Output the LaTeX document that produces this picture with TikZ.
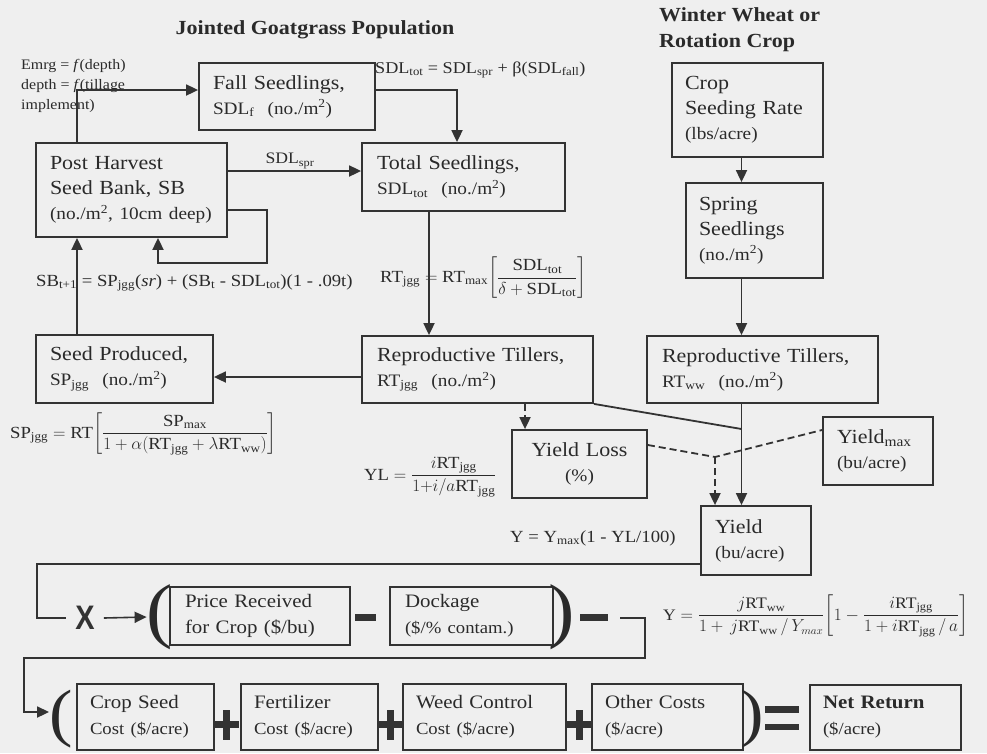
\documentclass[tikz,border=0pt]{standalone}
\usepackage{amsmath}
\usepackage{fontspec}
\setmainfont{Liberation Serif}[FakeStretch=1.1]
\newfontfamily\sansbold{Liberation Sans}[FakeStretch=0.85]
\usetikzlibrary{arrows.meta}
\definecolor{bg}{HTML}{EFEFEF}
\definecolor{lc}{HTML}{333333}
\definecolor{tc}{HTML}{2A2A2A}
\newcommand\fa{\fontsize{20}{25}\selectfont}
\newcommand\fb{\fontsize{17.5}{22}\selectfont}
\newcommand\fq{\fontsize{17}{20}\selectfont}
\newcommand\fc{\fontsize{19}{26}\selectfont}
\newcommand\fd{\fontsize{17}{22}\selectfont}
\tikzset{
 bx/.style={draw=lc, line width=1.8pt, align=left, font=\fa, text=tc, inner ysep=3pt, inner xsep=14pt},
 arr/.style={draw=lc, line width=1.8pt, -{Triangle[length=12pt,width=11pt]}},
 ln/.style={draw=lc, line width=1.8pt},
 dsh/.style={dash pattern=on 7pt off 4pt},
 lbl/.style={text=tc, inner sep=0pt},
 bar/.style={fill=lc, draw=none},
}
\begin{document}
\begin{tikzpicture}[x=1pt,y=-1pt]
\fill[bg] (0,0) rectangle (987,753);
\useasboundingbox (0,0) rectangle (987,753);

% titles
\node[lbl, font=\fontsize{20}{24}\selectfont\bfseries] (title) at (315,30) {Jointed Goatgrass Population};
\node[lbl, font=\fontsize{20}{26}\selectfont\bfseries, align=left, anchor=north west] (ww) at (659,7) {Winter Wheat or\\Rotation Crop};

% boxes
\node[bx, text width=148pt, minimum height=67pt] (fall) at (287,96.5) {Fall~Seedlings,\\{\fb SDL\textsubscript{f}~~(no./m\textsuperscript{2})}};
\node[bx, text width=163pt, minimum height=94pt] (ph) at (131.5,190) {Post~Harvest\\Seed~Bank,~SB\\{\fb (no./m\textsuperscript{2},~10cm~deep)}};
\node[bx, text width=173pt, inner xsep=15pt, minimum height=68pt] (tot) at (463.5,177) {Total~Seedlings,\\{\fb SDL\textsubscript{tot}~~(no./m\textsuperscript{2})}};
\node[bx, text width=149pt, minimum height=68pt] (sp) at (124.5,369) {Seed~Produced,\\{\fb SP\textsubscript{jgg}~~(no./m\textsuperscript{2})}};
\node[bx, text width=201pt, inner xsep=15pt, minimum height=67pt] (rtj) at (477.5,369.5) {Reproductive~Tillers,\\{\fb RT\textsubscript{jgg}~~(no./m\textsuperscript{2})}};
\node[bx, text width=201pt, inner xsep=15pt, minimum height=67pt] (rtw) at (762.5,369.5) {Reproductive~Tillers,\\{\fb RT\textsubscript{ww}~~(no./m\textsuperscript{2})}};
\node[bx, text width=125pt, inner xsep=13pt, minimum height=94pt] (crop) at (747.5,110) {Crop\\Seeding~Rate\\{\fb (lbs/acre)}};
\node[bx, text width=111pt, inner xsep=13pt, minimum height=95pt] (spring) at (754.5,230.5) {Spring\\Seedlings\\{\fb (no./m\textsuperscript{2})}};
\node[bx, align=center, text width=107pt, minimum height=68pt] (yl) at (579.5,464) {Yield~Loss\\{\fb (\%)}};
\node[bx, text width=82pt, minimum height=68pt] (ymax) at (878,451) {Yield\textsubscript{max}\\{\fb (bu/acre)}};
\node[bx, text width=82pt, minimum height=69pt] (yield) at (756,540.5) {Yield\\{\fb (bu/acre)}};
\node[bx, font=\fc, text width=150pt, inner xsep=15pt, minimum height=58pt] (price) at (260,616) {Price~Received\\for~Crop~(\$/bu)};
\node[bx, font=\fc, text width=133pt, inner xsep=15pt, minimum height=58pt] (dock) at (471.5,616) {Dockage\\{\fd (\$/\%~contam.)}};
\node[bx, font=\fc, text width=111pt, inner xsep=13pt, minimum height=66pt] (cseed) at (145.5,717) {Crop~Seed\\{\fd Cost~(\$/acre)}};
\node[bx, font=\fc, text width=111pt, inner xsep=13pt, minimum height=66pt] (fert) at (309.5,717) {Fertilizer\\{\fd Cost~(\$/acre)}};
\node[bx, font=\fc, text width=137pt, inner xsep=13pt, minimum height=66pt] (weed) at (484.5,717) {Weed~Control\\{\fd Cost~(\$/acre)}};
\node[bx, font=\fc, text width=125pt, inner xsep=13pt, minimum height=66pt] (other) at (667.5,717) {Other~Costs\\{\fd (\$/acre)}};
\node[bx, font=\fc, text width=125pt, inner xsep=13pt, minimum height=65pt] (net) at (885.5,717.5) {\textbf{Net~Return}\\{\fd (\$/acre)}};

% equations and labels
\node[lbl, font=\fontsize{14.5}{20}\selectfont, align=left, anchor=north west] (emrg) at (21,59) {Emrg = \textit{f}(depth)\\depth = \textit{f}(tillage\\implement)};
\node[lbl, font=\fontsize{16.5}{20}\selectfont, anchor=west] (eqtot) at (375,70) {SDL\textsubscript{tot} = SDL\textsubscript{spr} + β(SDL\textsubscript{fall})};
\node[lbl, font=\fontsize{16}{18}\selectfont] (spr) at (290,161) {SDL\textsubscript{spr}};
\node[lbl, font=\fq, anchor=west] (eqsb) at (36,283) {SB\textsubscript{t+1} = SP\textsubscript{jgg}(\textit{sr}) + (SB\textsubscript{t} - SDL\textsubscript{tot})(1 - .09t)};
\node[lbl, font=\fq, anchor=west] (eqrt) at (380,278) {$\text{RT}_{\text{jgg}} = \text{RT}_{\text{max}}\!\left[\dfrac{\text{SDL}_{\text{tot}}}{\delta+\text{SDL}_{\text{tot}}}\right]$};
\node[lbl, font=\fq, anchor=west] (eqsp) at (10,434) {$\text{SP}_{\text{jgg}} = \text{RT}\!\left[\dfrac{\text{SP}_{\text{max}}}{1+\alpha(\text{RT}_{\text{jgg}}+\lambda\text{RT}_{\text{ww}})}\right]$};
\node[lbl, font=\fq, anchor=west] (eqyl) at (364,477) {$\text{YL} = \dfrac{i\text{RT}_{\text{jgg}}}{1{+}i/a\text{RT}_{\text{jgg}}}$};
\node[lbl, font=\fq, anchor=west] (eqy1) at (510,538) {Y = Y\textsubscript{max}(1 - YL/100)};
\node[lbl, font=\fontsize{16}{19}\selectfont, anchor=west] (eqy2) at (663,616) {$\text{Y} = \dfrac{j\text{RT}_{\text{ww}}}{1+\,j\text{RT}_{\text{ww}}\,/\,Y_{max}}\!\left[1-\dfrac{i\text{RT}_{\text{jgg}}}{1+i\text{RT}_{\text{jgg}}\,/\,a}\right]$};

% operators of the return equation
\node[lbl, text=lc, font=\sansbold\bfseries\fontsize{34}{34}\selectfont, inner xsep=9pt] (xm) at (85,618) {X};
\node[lbl, font=\fontsize{72}{72}\selectfont] (lp1) at (160,617) {(};
\node[lbl, font=\fontsize{72}{72}\selectfont] (rp1) at (562,617) {)};
\node[lbl, font=\fontsize{64}{64}\selectfont] (lp2) at (61,719) {(};
\node[lbl, font=\fontsize{64}{64}\selectfont] (rp2) at (752,719) {)};
\fill[bar] (355,614) rectangle (376,621);
\fill[bar] (580,614) rectangle (608,621);
\foreach \cx in {226.5,390.5,579} {
  \fill[bar] (\cx-12,721) rectangle (\cx+12,728);
  \fill[bar] (\cx-3.5,710) rectangle (\cx+3.5,740);
}
\fill[bar] (765,706) rectangle (799,712.5);
\fill[bar] (765,723.5) rectangle (799,730);

% coordinates for free ends
\coordinate (jn) at (715,457);
\coordinate (jn2) at (741.5,429);
\coordinate (c3) at (620,618);

% connectors
\draw[arr] (ph.north -| 77,0) |- (fall.west |- 0,90);
\draw[arr] (fall.east |- 0,90) -| (tot.north -| 457,0);
\draw[arr] (ph.east |- 0,171) -- (tot.west |- 0,171);
\draw[arr] (ph.east |- 0,210) -| (267,263) -| (ph.south -| 158,0);
\draw[arr] (sp.north -| 77,0) -- (ph.south -| 77,0);
\draw[arr] (tot.south -| 429,0) -- (rtj.north -| 429,0);
\draw[arr] (rtj.west |- 0,377) -- (sp.east |- 0,377);
\draw[arr, dsh] (rtj.south -| 525,0) -- (yl.north -| 525,0);
\draw[ln] (rtj.south east) -- (jn2);
\draw[arr] (crop.south -| 741.5,0) -- (spring.north -| 741.5,0);
\draw[arr] (spring.south -| 741.5,0) -- (rtw.north -| 741.5,0);
\draw[arr] (rtw.south -| 741.5,0) -- (yield.north -| 741.5,0);
\draw[ln, dsh] (yl.east |- 0,445) -- (jn) -- (ymax.west |- 0,430);
\draw[arr, dsh] (jn) -- (yield.north -| 715,0);
\draw[ln] (yield.west |- 0,564) -| (37,618) -- (xm.west);
\draw[arr, line width=1.6pt] (xm.east) -- (lp1.west);
\draw[arr] (c3) -| (645,658) -| (24,712) -- (lp2.west |- 0,712);
\end{tikzpicture}
\end{document}
